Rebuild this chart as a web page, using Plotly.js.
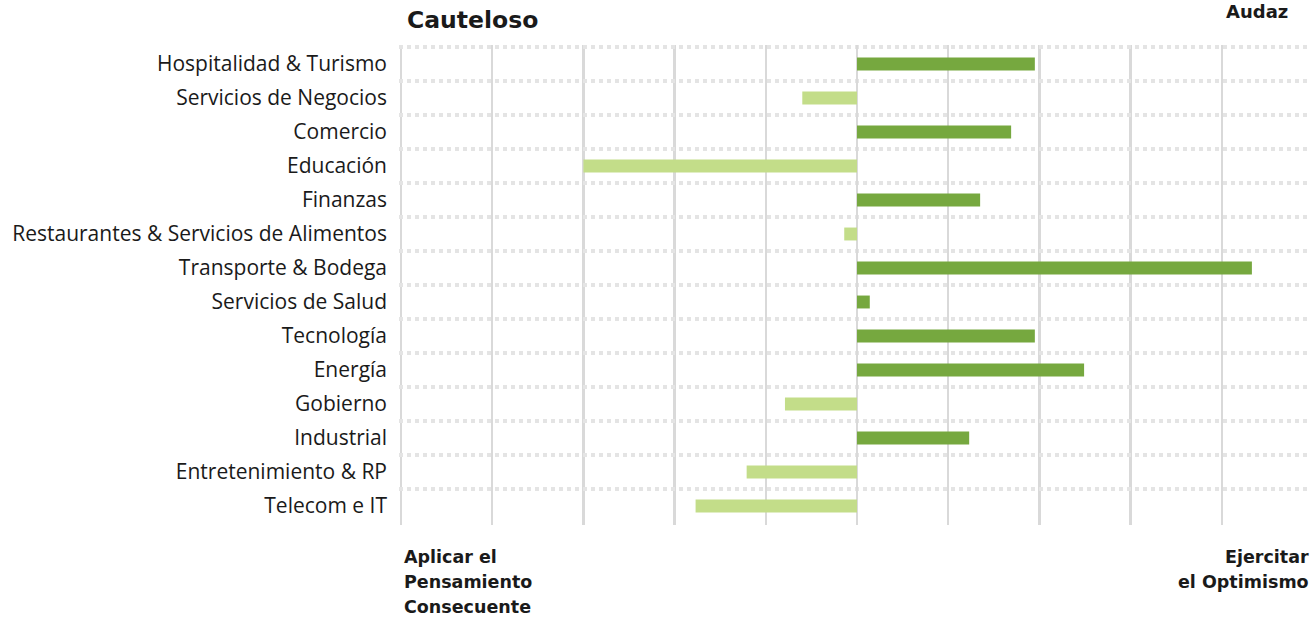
<!DOCTYPE html>
<html>
<head>
<meta charset="utf-8">
<script src="https://cdn.plot.ly/plotly-3.0.1.min.js"></script>
<style>html,body{margin:0;padding:0;background:#fff;}#chart{width:1311px;height:618px;}</style>
</head>
<body>
<div id="chart"></div>
<script>
const categories = [
  "Hospitalidad & Turismo",
  "Servicios de Negocios",
  "Comercio",
  "Educación",
  "Finanzas",
  "Restaurantes & Servicios de Alimentos",
  "Transporte & Bodega",
  "Servicios de Salud",
  "Tecnología",
  "Energía",
  "Gobierno",
  "Industrial",
  "Entretenimiento & RP",
  "Telecom e IT"
];
const values = [1.95, -0.60, 1.69, -3.0, 1.35, -0.14, 4.33, 0.14, 1.95, 2.49, -0.79, 1.23, -1.21, -1.77];
const topLeftLabel = "Cauteloso";
const topRightLabel = "Audaz";
const bottomLeftLines = ["Aplicar el", "Pensamiento", "Consecuente"];
const bottomRightLines = ["Ejercitar", "el Optimismo"];

const positiveColor = "#76a83f";
const negativeColor = "#c3dd89";
const colors = values.map(v => v >= 0 ? positiveColor : negativeColor);

const labelFont = "'Open Sans', 'Noto Sans', sans-serif";
const headFont = "'DejaVu Sans', sans-serif";

const trace = {
  type: "bar",
  orientation: "h",
  y: categories,
  x: values,
  width: 0.38,
  marker: {color: colors, line: {width: 0}},
  hoverinfo: "skip"
};

const annotations = [
  {text: topLeftLabel, xref: "paper", yref: "paper", x: 0.0066, y: 1, xanchor: "left", yanchor: "middle", yshift: 25, showarrow: false,
   font: {family: headFont, size: 23.5, color: "#1a1a1a", weight: 700}},
  {text: topRightLabel, xref: "paper", yref: "paper", x: 0.977, y: 1, xanchor: "right", yanchor: "middle", yshift: 34, showarrow: false,
   font: {family: headFont, size: 18, color: "#1a1a1a", weight: 700}}
];
const lineShifts = [-32, -57, -82];
bottomLeftLines.forEach((t, i) => annotations.push({
  text: t, xref: "paper", yref: "paper", x: 0.003, y: 0, xanchor: "left", yanchor: "middle", yshift: lineShifts[i], showarrow: false,
  font: {family: headFont, size: 17.5, color: "#1a1a1a", weight: 700}
}));
bottomRightLines.forEach((t, i) => annotations.push({
  text: t, xref: "paper", yref: "paper", x: 1, y: 0, xanchor: "right", yanchor: "middle", yshift: lineShifts[i], showarrow: false,
  font: {family: headFont, size: 17.5, color: "#1a1a1a", weight: 700}
}));

const layout = {
  width: 1311,
  height: 618,
  margin: {l: 399, r: 0, t: 45, b: 93, pad: 0},
  paper_bgcolor: "#ffffff",
  plot_bgcolor: "#ffffff",
  showlegend: false,
  font: {family: labelFont, color: "#1a1a1a"},
  xaxis: {
    range: [-5.022, 4.978],
    dtick: 1,
    tick0: 0,
    showticklabels: false,
    ticks: "",
    showgrid: true,
    gridcolor: "#d9d9d9",
    gridwidth: 2.5,
    zeroline: true,
    zerolinecolor: "#d9d9d9",
    zerolinewidth: 2.5,
    showline: false,
    fixedrange: true
  },
  yaxis: {
    type: "category",
    range: [13.559, -0.559],
    tickson: "boundaries",
    ticks: "",
    showgrid: true,
    gridcolor: "#e4e4e4",
    gridwidth: 3.5,
    griddash: "4px,4px",
    showline: false,
    zeroline: false,
    ticklabelstandoff: 11,
    tickfont: {family: labelFont, size: 21, color: "#1a1a1a"},
    fixedrange: true
  },
  annotations: annotations
};

Plotly.newPlot("chart", [trace], layout, {displayModeBar: false, staticPlot: true});
</script>
</body>
</html>
